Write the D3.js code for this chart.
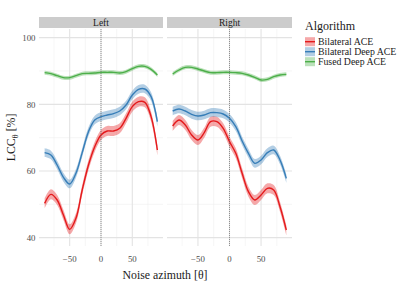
<!DOCTYPE html>
<html>
<head>
<meta charset="utf-8">
<script src="https://cdn.jsdelivr.net/npm/d3@7"></script>
<style>
  body { margin: 0; background: #fff; }
  text { font-family: "Liberation Serif", "DejaVu Serif", serif; }
</style>
</head>
<body>
<svg id="chart" width="399" height="283"></svg>
<script>
// azimuth samples (degrees)
var azimuth = [-90, -80, -70, -60, -50, -40, -30, -20, -10, 0, 10, 20, 30, 40, 50, 60, 70, 80, 90];
var panels = ["Left", "Right"];
var algorithms = ["Bilateral ACE", "Bilateral Deep ACE", "Fused Deep ACE"];

// LCC values, per panel
var leftBilateral  = [50.3, 53.0, 51.3, 46.8, 42.5, 45.8, 54.3, 61.8, 67.3, 70.8, 72.0, 72.0, 72.8, 75.8, 79.3, 80.8, 80.6, 76.3, 66.3];
var leftBiDeep     = [65.5, 64.8, 61.8, 58.1, 56.1, 59.3, 65.5, 71.8, 75.3, 76.3, 76.8, 77.2, 78.0, 79.8, 82.8, 84.5, 84.6, 82.3, 74.8];
var leftFused      = [89.5, 89.2, 88.6, 88.0, 88.0, 88.6, 89.2, 89.3, 89.4, 89.6, 89.6, 89.6, 89.4, 89.8, 90.7, 91.4, 91.4, 90.5, 88.8];
var rightBilateral = [73.5, 75.3, 73.8, 70.8, 69.3, 71.5, 74.8, 74.8, 72.8, 68.8, 65.3, 59.3, 53.8, 51.3, 52.8, 54.8, 54.3, 49.3, 42.3];
var rightBiDeep    = [78.0, 78.6, 78.0, 77.0, 76.5, 76.8, 77.5, 77.5, 77.1, 75.8, 73.3, 69.0, 65.3, 62.3, 63.3, 65.5, 66.3, 63.3, 57.8];
var rightFused     = [89.1, 90.3, 91.1, 91.1, 90.6, 90.0, 89.5, 89.5, 89.6, 89.6, 89.5, 89.3, 88.8, 88.1, 87.3, 87.5, 88.3, 88.8, 89.0];
// ribbon half widths
var bandWidth = [1.5, 1.3, 0.6];

var xTicks = [-50, 0, 50];
var xMinor = [-75, -25, 25, 75];
var yTicks = [40, 60, 80, 100];
var yMinor = [50, 70, 90];

var colors = ["#E41A1C", "#377EB8", "#4DAF4A"];
var series = {
  Left: [leftBilateral, leftBiDeep, leftFused],
  Right: [rightBilateral, rightBiDeep, rightFused]
};

var svg = d3.select("#chart");
var panelTop = 29, panelBottom = 246;
var panelX = { Left: [39, 163], Right: [167, 292] };

var y = d3.scaleLinear().domain([37.5, 102.6]).range([panelBottom, panelTop]);

panels.forEach(function(p) {
  var x = d3.scaleLinear().domain([-99, 99]).range(panelX[p]);
  var g = svg.append("g");

  // strip
  g.append("rect")
    .attr("x", panelX[p][0]).attr("y", 17)
    .attr("width", panelX[p][1] - panelX[p][0]).attr("height", 11)
    .attr("fill", "#cccccc");
  g.append("text")
    .attr("x", (panelX[p][0] + panelX[p][1]) / 2).attr("y", 25.8)
    .attr("text-anchor", "middle").attr("font-size", 9.5).attr("fill", "#1a1a1a")
    .text(p);

  // grid
  g.selectAll(".ymin").data(yMinor).enter().append("line")
    .attr("x1", panelX[p][0]).attr("x2", panelX[p][1])
    .attr("y1", y).attr("y2", y)
    .attr("stroke", "#f0f0f0").attr("stroke-width", 0.6);
  g.selectAll(".xmin").data(xMinor).enter().append("line")
    .attr("x1", x).attr("x2", x)
    .attr("y1", panelTop).attr("y2", panelBottom)
    .attr("stroke", "#f0f0f0").attr("stroke-width", 0.6);
  g.selectAll(".ymaj").data(yTicks).enter().append("line")
    .attr("x1", panelX[p][0]).attr("x2", panelX[p][1])
    .attr("y1", y).attr("y2", y)
    .attr("stroke", "#e3e3e3").attr("stroke-width", 1.1);
  g.selectAll(".xmaj").data(xTicks).enter().append("line")
    .attr("x1", x).attr("x2", x)
    .attr("y1", panelTop).attr("y2", panelBottom)
    .attr("stroke", "#e3e3e3").attr("stroke-width", 1.1);

  // x tick labels
  g.selectAll(".xt").data(xTicks).enter().append("text")
    .attr("x", x).attr("y", 261.5)
    .attr("text-anchor", "middle").attr("font-size", 8.8).attr("fill", "#4d4d4d")
    .text(function(d) { return d < 0 ? "\u2212" + Math.abs(d) : d; });

  // ribbons + lines
  series[p].forEach(function(vals, i) {
    var pts = azimuth.map(function(a, j) { return { x: a, v: vals[j] }; });
    var area = d3.area()
      .x(function(d) { return x(d.x); })
      .y0(function(d) { return y(d.v - bandWidth[i]); })
      .y1(function(d) { return y(d.v + bandWidth[i]); })
      .curve(d3.curveCatmullRom);
    var line = d3.line()
      .x(function(d) { return x(d.x); })
      .y(function(d) { return y(d.v); })
      .curve(d3.curveCatmullRom);
    g.append("path").attr("d", area(pts))
      .attr("fill", colors[i]).attr("fill-opacity", 0.38);
    g.append("path").attr("d", line(pts))
      .attr("fill", "none").attr("stroke", colors[i]).attr("stroke-width", 1.4);
  });

  // zero reference line
  g.append("line")
    .attr("x1", x(0)).attr("x2", x(0))
    .attr("y1", panelTop).attr("y2", panelBottom)
    .attr("stroke", "#555").attr("stroke-width", 0.6)
    .attr("stroke-dasharray", "1,1");
});

// y tick labels
svg.selectAll(".yt").data(yTicks).enter().append("text")
  .attr("x", 35.5).attr("y", function(d) { return y(d) + 3.2; })
  .attr("text-anchor", "end").attr("font-size", 8.8).attr("fill", "#4d4d4d")
  .text(function(d) { return d; });

// axis titles
svg.append("text")
  .attr("x", 165).attr("y", 279)
  .attr("text-anchor", "middle").attr("font-size", 11.8).attr("fill", "#1a1a1a")
  .text("Noise azimuth [\u03b8]");

var yt = svg.append("text")
  .attr("transform", "translate(15," + (panelTop + panelBottom) / 2 + ")rotate(-90)")
  .attr("text-anchor", "middle").attr("font-size", 11.8).attr("fill", "#1a1a1a");
yt.append("tspan").text("LCC");
yt.append("tspan").attr("font-size", 8.5).attr("dy", 2.8).text("\u03b8");
yt.append("tspan").attr("dy", -2.8).text(" [%]");

// legend
var legend = svg.append("g");
legend.append("text")
  .attr("x", 305).attr("y", 29.5)
  .attr("font-size", 12).attr("fill", "#1a1a1a")
  .text("Algorithm");
var item = legend.selectAll(".item").data(algorithms).enter().append("g")
  .attr("transform", function(d, i) { return "translate(305," + (41.7 + i * 10) + ")"; });
item.append("rect")
  .attr("x", 0).attr("y", -4.5).attr("width", 10).attr("height", 9)
  .attr("fill", function(d, i) { return colors[i]; }).attr("fill-opacity", 0.38);
item.append("line")
  .attr("x1", 0).attr("x2", 10).attr("y1", 0).attr("y2", 0)
  .attr("stroke", function(d, i) { return colors[i]; }).attr("stroke-width", 1.4);
item.append("text")
  .attr("x", 13).attr("y", 3.3)
  .attr("font-size", 9.8).attr("fill", "#1a1a1a")
  .text(function(d) { return d; });
</script>
</body>
</html>
